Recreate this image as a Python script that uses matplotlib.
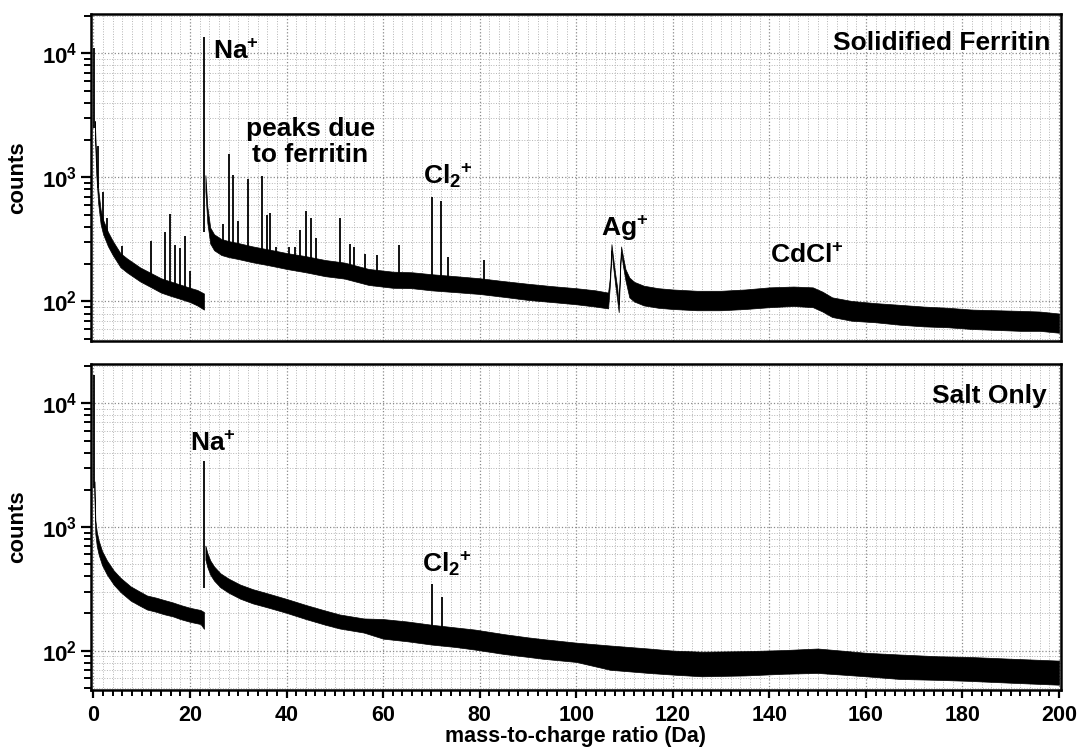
import numpy as np
import matplotlib
matplotlib.use('Agg')
import matplotlib.pyplot as plt
from matplotlib.ticker import LogLocator, LogFormatterMathtext, MultipleLocator, NullFormatter

plt.rcParams['font.family'] = 'Liberation Sans'
plt.rcParams['font.weight'] = 'bold'
plt.rcParams['mathtext.fontset'] = 'custom'
plt.rcParams['mathtext.rm'] = 'Liberation Sans:bold'
plt.rcParams['mathtext.bf'] = 'Liberation Sans:bold'
plt.rcParams['mathtext.it'] = 'Liberation Sans:bold'
plt.rcParams['mathtext.default'] = 'bf'

# --- Solidified Ferritin: noise band (lower / upper envelope) ---
ferr_x_pre = [0.3, 0.6, 1.0, 1.5, 2.0, 3.0, 4.0, 5.6, 7.0, 9.7, 12.0, 14.0, 16.0, 18.0, 20.0, 21.5, 22.9]
ferr_lo_pre = [2190, 1050, 615, 420, 350, 280, 237, 189, 171, 145, 130, 118, 111, 105, 99, 93, 86]
ferr_hi_pre = [2850, 1370, 800, 547, 456, 365, 308, 245, 222, 188, 169, 154, 145, 137, 129, 124, 116]

ferr_x_post = [23.2, 23.6, 24.2, 25.0, 26.5, 28.0, 30.0, 33.0, 36.0, 38.0, 40.0, 44.0, 48.0, 52.0,
               57.0, 62.0, 66.0, 70.0, 75.0, 80.0, 85.0, 90.0, 95.0, 100.0, 104.0, 106.6,
               107.0, 107.3, 107.6, 108.0, 108.5, 108.8, 109.1, 109.3, 109.7, 110.2,
               111.0, 112.0, 114.0, 117.0, 120.0, 125.0, 130.0, 135.0, 140.0, 145.0, 149.0,
               151.0, 153.0, 157.0, 162.0, 167.0, 172.0, 177.0, 182.0, 187.0, 192.0, 196.0, 200.0]
ferr_lo_post = [776, 431, 293, 259, 237, 228, 220, 207, 197, 190, 183, 172, 160, 153,
                136, 129, 128, 123, 119, 115, 109, 103, 99, 95, 91, 88,
                140, 258, 198, 145, 102, 82, 178, 250, 192, 148,
                108, 100, 93, 89, 87, 85, 85, 87, 90, 92, 90,
                83, 75, 70, 68, 65, 63, 62, 60, 59, 58, 58, 56]
ferr_hi_post = [1044, 580, 394, 348, 319, 307, 296, 278, 264, 255, 246, 232, 216, 206,
                183, 174, 172, 166, 160, 154, 146, 139, 133, 128, 123, 118,
                160, 290, 232, 175, 128, 95, 202, 278, 228, 182,
                156, 144, 134, 128, 125, 122, 122, 125, 130, 132, 130,
                120, 108, 101, 97, 94, 91, 89, 86, 85, 84, 83, 80]

# sharp peaks (position in Da, peak counts)
ferr_peak_x = [0.15, 0.9, 1.9, 2.9, 5.9, 11.9, 14.9, 15.9, 17.0, 17.9, 19.0, 20.1, 23.0,
               26.9, 28.0, 28.9, 30.0, 32.0, 34.9, 36.0, 36.6, 37.8, 40.6, 41.8, 42.8, 44.0,
               45.1, 46.2, 51.1, 53.1, 53.9, 56.3, 58.7, 63.2, 70.1, 72.0, 73.5, 81.0]
ferr_peak_y = [11000, 1800, 770, 475, 280, 305, 360, 510, 285, 270, 340, 175, 13500,
               425, 1550, 1040, 445, 975, 1020, 495, 520, 275, 275, 275, 375, 540,
               475, 325, 470, 290, 275, 240, 235, 285, 690, 650, 230, 215]

# --- Salt Only ---
salt_x_pre = [0.2, 0.4, 0.7, 1.1, 1.8, 2.8, 4.2, 5.6, 7.7, 9.5, 11.1, 13.0, 14.6, 16.5, 18.0, 20.0, 22.2, 22.9]
salt_lo_pre = [1800, 877, 702, 596, 491, 412, 342, 298, 254, 232, 215, 206, 197, 189, 180, 171, 164, 150]
salt_hi_pre = [2340, 1140, 912, 775, 638, 536, 445, 388, 331, 302, 279, 268, 257, 245, 234, 222, 213, 205]

salt_x_post = [23.2, 23.6, 24.2, 25.0, 26.3, 28.0, 30.4, 33.0, 36.0, 40.0, 44.0, 48.0, 51.0, 56.0,
               60.0, 65.0, 70.0, 75.0, 79.0, 85.0, 90.0, 93.0, 100.0,
               107.0, 115.0, 120.0, 126.0, 135.0, 143.0, 150.0, 155.0, 160.0, 167.0, 175.0, 181.0, 190.0, 200.0]
salt_lo_post = [544, 474, 412, 368, 325, 294, 263, 241, 224, 202, 180, 162, 151, 140,
                125, 119, 112, 107, 102, 94, 89, 86, 81,
                70, 66, 64, 62, 63, 65, 66, 64, 62, 59, 58, 57, 55, 53]
salt_hi_post = [707, 616, 536, 479, 422, 382, 342, 314, 291, 262, 234, 211, 196, 182,
                180, 172, 162, 154, 148, 136, 128, 124, 116,
                110, 104, 100, 98, 99, 101, 104, 100, 96, 93, 90, 89, 86, 83]

salt_peak_x = [0.15, 23.0, 70.2, 72.2]
salt_peak_y = [17000, 3400, 345, 270]

fig = plt.figure(figsize=(10.78, 7.52), dpi=100)
ax_top = fig.add_axes([0.0844, 0.5465, 0.8998, 0.4349])
ax_bot = fig.add_axes([0.0844, 0.0824, 0.8998, 0.4336])


def draw_panel(ax, segments, peak_x, peak_y):
    for xs, lo, hi in segments:
        ax.fill_between(xs, lo, hi, color='black', linewidth=0.5, edgecolor='black')
    all_x = np.concatenate([s[0] for s in segments])
    all_mid = np.concatenate([np.sqrt(np.array(s[1]) * np.array(s[2])) for s in segments])
    foot = np.interp(peak_x, all_x, all_mid)
    ax.vlines(peak_x, foot, peak_y, color='black', linewidth=1.3)


def style_axes(ax, show_x):
    ax.set_yscale('log')
    ax.set_xlim(-0.5, 200.4)
    ax.set_ylim(48, 2.08e4)
    ax.xaxis.set_major_locator(MultipleLocator(20))
    ax.xaxis.set_minor_locator(MultipleLocator(2))
    ax.yaxis.set_major_locator(LogLocator(base=10))
    ax.yaxis.set_minor_locator(LogLocator(base=10, subs=np.arange(2, 10)))
    ax.yaxis.set_major_formatter(LogFormatterMathtext())
    ax.yaxis.set_minor_formatter(NullFormatter())
    ax.grid(which='major', color='#8a8a8a', linestyle=':', linewidth=0.9)
    ax.grid(which='minor', color='#b5b5b5', linestyle=':', linewidth=0.7)
    ax.set_axisbelow(True)
    for sp in ax.spines.values():
        sp.set_linewidth(1.8)
    ax.tick_params(axis='y', which='major', direction='out', length=7, width=1.6, labelsize=16, pad=3)
    ax.tick_params(axis='y', which='minor', direction='out', length=5, width=1.4)
    if show_x:
        ax.tick_params(axis='x', which='major', direction='out', length=6, width=1.6, labelsize=15.5, pad=5)
        ax.tick_params(axis='x', which='minor', direction='out', length=4, width=1.4)
    else:
        ax.tick_params(axis='x', which='both', length=0, labelbottom=False)
    ax.set_ylabel('counts', fontsize=16, fontweight='bold', labelpad=10)


draw_panel(ax_top, [(ferr_x_pre, ferr_lo_pre, ferr_hi_pre), (ferr_x_post, ferr_lo_post, ferr_hi_post)],
           ferr_peak_x, ferr_peak_y)
draw_panel(ax_bot, [(salt_x_pre, salt_lo_pre, salt_hi_pre), (salt_x_post, salt_lo_post, salt_hi_post)],
           salt_peak_x, salt_peak_y)

style_axes(ax_top, False)
style_axes(ax_bot, True)
ax_bot.set_xlabel('mass-to-charge ratio (Da)', fontsize=15.5, fontweight='bold', labelpad=0)

lab = dict(fontsize=19, fontweight='bold', va='baseline', ha='left')
ax_top.text(24.8, 9100, r'Na$^{+}$', **lab)
ax_top.text(44.9, 1920, 'peaks due\nto ferritin', fontsize=19, fontweight='bold',
            ha='center', va='center', linespacing=1.1)
ax_top.text(68.3, 890, r'Cl$_{2}{}^{+}$', **lab)
ax_top.text(105.1, 340, r'Ag$^{+}$', **lab)
ax_top.text(140.2, 203, r'CdCl$^{+}$', **lab)
ax_top.text(0.989, 0.89, 'Solidified Ferritin', transform=ax_top.transAxes,
            fontsize=19, fontweight='bold', ha='right', va='baseline')

ax_bot.text(20.1, 4110, r'Na$^{+}$', **lab)
ax_bot.text(68.0, 430, r'Cl$_{2}{}^{+}$', **lab)
ax_bot.text(0.985, 0.88, 'Salt Only', transform=ax_bot.transAxes,
            fontsize=19, fontweight='bold', ha='right', va='baseline')

fig.savefig('out.png', dpi=100)
